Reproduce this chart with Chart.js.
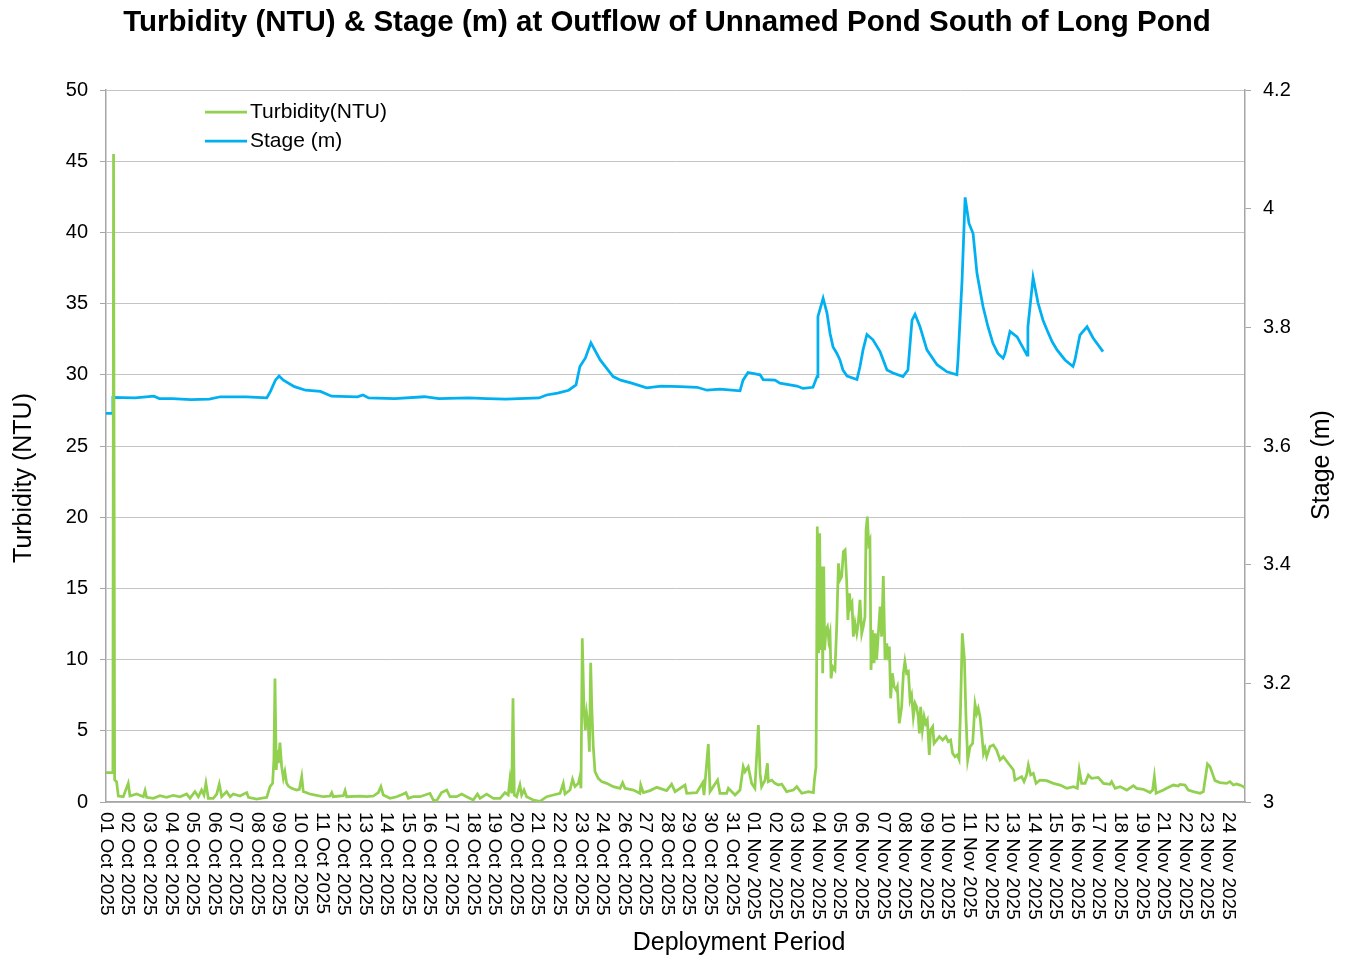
<!DOCTYPE html>
<html>
<head>
<meta charset="utf-8">
<title>Turbidity & Stage</title>
<script src="https://cdn.jsdelivr.net/npm/chart.js@4.4.1/dist/chart.umd.min.js"></script>
<style>
  body { margin: 0; background: #fff; }
  #wrap { width: 1351px; height: 958px; }
</style>
</head>
<body>
<div id="wrap"><canvas id="chart" width="1351" height="958"></canvas></div>
<script>
// tick labels on the date axis (one per label slot, as on the original axis)
const dateLabels = [
  "01 Oct 2025", "02 Oct 2025", "03 Oct 2025", "04 Oct 2025", "05 Oct 2025", "06 Oct 2025",
  "07 Oct 2025", "08 Oct 2025", "09 Oct 2025", "10 Oct 2025", "11 Oct 2025", "12 Oct 2025",
  "13 Oct 2025", "14 Oct 2025", "15 Oct 2025", "16 Oct 2025", "17 Oct 2025", "18 Oct 2025",
  "19 Oct 2025", "20 Oct 2025", "21 Oct 2025", "22 Oct 2025", "23 Oct 2025", "24 Oct 2025",
  "26 Oct 2025", "27 Oct 2025", "28 Oct 2025", "29 Oct 2025", "30 Oct 2025", "31 Oct 2025",
  "01 Nov 2025", "02 Nov 2025", "03 Nov 2025", "04 Nov 2025", "05 Nov 2025", "06 Nov 2025",
  "07 Nov 2025", "08 Nov 2025", "09 Nov 2025", "10 Nov 2025", "11 Nov 2025", "12 Nov 2025",
  "13 Nov 2025", "14 Nov 2025", "15 Nov 2025", "16 Nov 2025", "17 Nov 2025", "18 Nov 2025",
  "19 Nov 2025", "21 Nov 2025", "22 Nov 2025", "23 Nov 2025", "24 Nov 2025"
];
const xEnd = 52.78; // axis runs a little past the last label

const turbTicks = [0, 5, 10, 15, 20, 25, 30, 35, 40, 45, 50];
const stageTicks = [3, 3.2, 3.4, 3.6, 3.8, 4, 4.2];

// Turbidity (NTU) - x is position along the date axis (label slots)
const turbX = [
  0, 0.32, 0.35, 0.40, 0.49, 0.57, 0.80, 1.03, 1.11, 1.42, 1.73, 1.81, 1.88, 2.19, 2.50, 2.81,
  3.12, 3.43, 3.74, 3.89, 4.12, 4.28, 4.43, 4.54, 4.63, 4.74, 4.97, 5.13, 5.25, 5.36, 5.59, 5.75,
  5.90, 6.21, 6.52, 6.60, 6.98, 7.45, 7.60, 7.72, 7.78, 7.83, 7.89, 7.94, 7.99, 8.06, 8.14, 8.22,
  8.29, 8.37, 8.45, 8.60, 8.84, 8.96, 9.07, 9.14, 9.45, 9.76, 10.07, 10.38, 10.46, 10.53, 11.00,
  11.08, 11.15, 11.77, 12.08, 12.39, 12.62, 12.74, 12.85, 13.16, 13.47, 13.78, 13.90, 14.01,
  14.24, 14.55, 15.01, 15.17, 15.32, 15.55, 15.79, 15.94, 16.25, 16.48, 16.71, 17.02, 17.21,
  17.33, 17.64, 17.95, 18.26, 18.49, 18.64, 18.72, 18.80, 18.86, 18.92, 19.03, 19.18, 19.26,
  19.37, 19.49, 19.80, 20.11, 20.42, 20.73, 21.04, 21.19, 21.27, 21.50, 21.62, 21.73, 21.89,
  21.96, 22.01, 22.07, 22.15, 22.21, 22.27, 22.35, 22.40, 22.46, 22.51, 22.58, 22.66, 22.81,
  22.97, 23.20, 23.51, 23.82, 23.94, 24.05, 24.44, 24.74, 24.78, 24.90, 25.21, 25.52, 25.98,
  26.21, 26.37, 26.83, 26.91, 27.37, 27.65, 27.71, 27.91, 27.99, 28.34, 28.45, 28.76, 28.84,
  29.15, 29.38, 29.53, 29.61, 29.76, 29.92, 30.07, 30.23, 30.31, 30.38, 30.54, 30.65, 30.69,
  30.85, 31.00, 31.16, 31.31, 31.54, 31.85, 32.01, 32.24, 32.55, 32.78, 32.82, 32.90, 32.93,
  32.96, 33.02, 33.07, 33.12, 33.18, 33.21, 33.26, 33.30, 33.36, 33.43, 33.49, 33.55, 33.60,
  33.67, 33.78, 33.86, 33.94, 34.01, 34.09, 34.17, 34.25, 34.32, 34.38, 34.45, 34.51, 34.57,
  34.63, 34.71, 34.79, 34.86, 34.94, 35.02, 35.09, 35.17, 35.22, 35.28, 35.34, 35.40, 35.45,
  35.51, 35.59, 35.65, 35.71, 35.79, 35.87, 35.94, 36.02, 36.10, 36.18, 36.25, 36.30, 36.36,
  36.44, 36.52, 36.61, 36.67, 36.76, 36.87, 36.95, 37.02, 37.10, 37.18, 37.26, 37.33, 37.41,
  37.49, 37.56, 37.64, 37.69, 37.75, 37.83, 37.91, 37.98, 38.06, 38.15, 38.21, 38.31, 38.37,
  38.49, 38.62, 38.77, 38.92, 39.03, 39.14, 39.23, 39.34, 39.45, 39.53, 39.60, 39.68, 39.78,
  39.85, 39.93, 40.04, 40.16, 40.27, 40.35, 40.42, 40.50, 40.58, 40.66, 40.73, 40.81, 40.96,
  41.12, 41.27, 41.43, 41.58, 41.81, 42.05, 42.12, 42.28, 42.43, 42.54, 42.66, 42.74, 42.85,
  42.97, 43.10, 43.28, 43.59, 43.90, 44.21, 44.52, 44.83, 45.01, 45.10, 45.21, 45.37, 45.52,
  45.67, 45.98, 46.22, 46.52, 46.60, 46.76, 46.99, 47.30, 47.61, 47.76, 48.07, 48.38, 48.50,
  48.58, 48.66, 48.84, 49.00, 49.15, 49.46, 49.69, 49.77, 50.00, 50.15, 50.39, 50.70, 50.85,
  50.93, 51.04, 51.16, 51.27, 51.39, 51.62, 51.93, 52.08, 52.24, 52.39, 52.55, 52.70, 52.78
];
const turbY = [
  2.06, 2.06, 45.5, 1.55, 1.43, 0.42, 0.37, 1.31, 0.42, 0.56, 0.37, 0.80, 0.33, 0.26, 0.44, 0.33,
  0.47, 0.37, 0.56, 0.26, 0.73, 0.37, 0.84, 0.49, 1.31, 0.26, 0.26, 0.56, 1.26, 0.37, 0.73, 0.37,
  0.56, 0.42, 0.66, 0.33, 0.21, 0.33, 1.08, 1.31, 2.95, 8.68, 2.25, 3.65, 2.72, 4.17, 2.48, 1.66,
  2.13, 1.31, 1.12, 0.96, 0.84, 0.89, 1.78, 0.73, 0.56, 0.47, 0.37, 0.42, 0.66, 0.37, 0.44,
  0.80, 0.37, 0.42, 0.37, 0.42, 0.66, 1.08, 0.49, 0.26, 0.37, 0.56, 0.66, 0.26,
  0.37, 0.37, 0.61, 0.14, 0.09, 0.66, 0.84, 0.37, 0.37, 0.56, 0.37, 0.14, 0.56,
  0.26, 0.56, 0.26, 0.26, 0.66, 0.49, 1.59, 0.61, 7.28, 0.49, 0.37, 1.19, 0.49,
  0.84, 0.37, 0.14, 0.05, 0.37, 0.49, 0.61, 1.31, 0.56, 0.84, 1.59, 1.08, 1.31,
  1.78, 0.96, 11.49, 6.46, 5.06, 6.23, 5.29, 3.53, 9.78, 6.69, 3.89, 2.13, 1.66,
  1.43, 1.31, 1.08, 0.96, 1.36, 0.96, 0.84, 0.61, 1.19, 0.66, 0.80, 1.03, 0.80,
  1.26, 0.73, 1.19, 0.61, 0.66, 1.36, 0.49, 4.07, 0.73, 1.54, 0.61, 0.61, 0.96,
  0.49, 0.84, 2.48, 2.13, 2.48, 1.31, 0.96, 5.41, 2.01, 1.08, 1.54, 2.72, 1.43,
  1.54, 1.31, 1.19, 1.26, 0.73, 0.84, 1.08, 0.61, 0.73, 0.66, 1.43, 2.48, 9.50,
  19.34, 10.44, 18.87, 10.67, 16.53, 9.04, 16.53, 10.67, 12.08, 12.31, 11.38, 11.84, 8.68,
  9.50, 9.27, 12.31, 16.76, 15.59, 15.82, 17.58, 17.70, 15.59, 12.78, 14.65, 13.72, 13.95,
  11.61, 12.55, 11.84, 12.55, 14.19, 11.84, 12.31, 13.01, 19.10, 20.04, 18.16, 18.40, 9.27,
  12.08, 9.74, 11.84, 9.97, 11.84, 13.72, 11.61, 15.87, 9.97, 11.14, 9.97, 10.91, 7.28,
  9.04, 8.10, 7.87, 8.10, 5.52, 6.69, 9.04, 9.85, 9.04, 9.15, 7.16, 7.51, 5.99,
  6.93, 6.69, 5.99, 4.82, 6.69, 5.06, 5.99, 5.52, 5.76, 3.30, 5.06, 5.29, 4.12,
  4.35, 4.59, 4.35, 4.59, 4.24, 4.35, 3.42, 3.18, 3.30, 3.00, 6.69, 11.84, 9.97,
  5.99, 2.95, 3.89, 4.12, 6.88, 6.23, 6.58, 5.99, 4.82, 3.42, 3.77, 3.18, 3.89,
  4.00, 3.65, 2.95, 3.18, 2.72, 2.25, 1.54, 1.66, 1.78, 1.43, 1.90, 2.60, 1.90,
  2.01, 1.31, 1.54, 1.50, 1.31, 1.19, 0.96, 1.08, 0.96, 2.25, 1.31, 1.31, 1.90,
  1.66, 1.73, 1.31, 1.24, 1.43, 0.96, 1.08, 0.84, 1.15, 0.96, 0.89, 0.66, 0.84,
  1.78, 0.61, 0.73, 0.84, 0.96, 1.19, 1.12, 1.24, 1.19, 0.84, 0.73, 0.61, 0.73,
  1.54, 2.67, 2.48, 2.01, 1.50, 1.36, 1.31, 1.43, 1.19, 1.26, 1.19, 1.08, 1.00
];

// Stage (m)
const stageX = [
  0, 0.29, 0.32, 1.35, 2.22, 2.47, 3.07, 3.93, 4.79, 5.30, 6.51, 7.45, 7.62, 7.85, 8.02, 8.22,
  8.73, 9.25, 9.94, 10.45, 11.65, 11.91, 12.17, 13.37, 14.75, 15.43, 16.81, 17.66, 18.52,
  20.07, 20.41, 20.93, 21.44, 21.78, 21.96, 22.21, 22.47, 22.90, 23.50, 23.85, 24.36, 25.05,
  25.73, 26.60, 27.39, 27.85, 28.45, 29.38, 29.52, 29.75, 30.31, 30.45, 31.00, 31.23, 32.02,
  32.30, 32.76, 32.95, 32.99, 33.23, 33.41, 33.55, 33.69, 33.87, 34.01, 34.15, 34.34, 34.80,
  34.94, 35.08, 35.26, 35.54, 35.87, 36.19, 36.47, 36.93, 37.16, 37.35, 37.49, 37.72, 38.04,
  38.51, 38.97, 39.43, 39.48, 39.67, 39.81, 39.99, 40.18, 40.36, 40.50, 40.64, 40.87, 41.10,
  41.33, 41.57, 41.66, 41.89, 42.22, 42.68, 42.72, 42.96, 43.19, 43.42, 43.60, 43.84, 44.07,
  44.44, 44.81, 44.90, 45.13, 45.46, 45.74, 46.20
];
const stageY = [
  3.655, 3.655, 3.682, 3.681, 3.684, 3.680, 3.680, 3.678, 3.679, 3.683, 3.683, 3.681, 3.692,
  3.711, 3.718, 3.711, 3.700, 3.694, 3.692, 3.684, 3.683, 3.686, 3.681, 3.680, 3.683, 3.680,
  3.681, 3.680, 3.679, 3.681, 3.686, 3.689, 3.694, 3.703, 3.734, 3.748, 3.774, 3.745, 3.717,
  3.711, 3.706, 3.698, 3.701, 3.700, 3.699, 3.694, 3.696, 3.693, 3.711, 3.724, 3.720, 3.712,
  3.711, 3.706, 3.701, 3.697, 3.699, 3.717, 3.818, 3.849, 3.824, 3.790, 3.767, 3.756, 3.745,
  3.728, 3.718, 3.712, 3.734, 3.762, 3.788, 3.779, 3.759, 3.728, 3.723, 3.717, 3.728, 3.812,
  3.822, 3.801, 3.762, 3.737, 3.725, 3.720, 3.745, 3.880, 4.019, 3.975, 3.958, 3.891, 3.863,
  3.835, 3.801, 3.773, 3.756, 3.748, 3.756, 3.793, 3.784, 3.753, 3.801, 3.884, 3.841, 3.812,
  3.796, 3.776, 3.762, 3.745, 3.734, 3.745, 3.787, 3.801, 3.782, 3.759
];

const FONT = '"Liberation Sans", Arial, sans-serif';
const green = '#92D050';
const blue = '#00B0F0';

// titles, rotated date labels and the legend drawn by hand
const decor = {
  id: 'decor',
  afterDraw(chart) {
    const ctx = chart.ctx;
    const xs = chart.scales.x;
    const area = chart.chartArea;
    ctx.save();
    ctx.fillStyle = '#000';
    ctx.textBaseline = 'middle';

    ctx.font = 'bold 29.5px ' + FONT;
    ctx.textAlign = 'center';
    ctx.fillText('Turbidity (NTU) & Stage (m) at Outflow of Unnamed Pond South of Long Pond', 667, 23);

    // date labels, read top to bottom
    ctx.font = '19px ' + FONT;
    dateLabels.forEach(function (lab, i) {
      ctx.save();
      ctx.translate(xs.getPixelForValue(i), area.bottom + 10);
      ctx.rotate(Math.PI / 2);
      ctx.textAlign = 'left';
      ctx.fillText(lab, 0, 0);
      ctx.restore();
    });

    ctx.font = '25px ' + FONT;
    ctx.textAlign = 'center';
    ctx.fillText('Deployment Period', 739, 943);

    ctx.save();
    ctx.translate(24, 478);
    ctx.rotate(-Math.PI / 2);
    ctx.fillText('Turbidity (NTU)', 0, 0);
    ctx.restore();

    ctx.save();
    ctx.translate(1322, 465);
    ctx.rotate(-Math.PI / 2);
    ctx.fillText('Stage (m)', 0, 0);
    ctx.restore();

    // legend
    ctx.font = '21px ' + FONT;
    ctx.textAlign = 'left';
    chart.data.datasets.forEach(function (ds, i) {
      const y = 112 + i * 29;
      ctx.strokeStyle = ds.borderColor;
      ctx.lineWidth = 2.75;
      ctx.beginPath();
      ctx.moveTo(205, y);
      ctx.lineTo(247, y);
      ctx.stroke();
      ctx.fillText(ds.label, 250, y);
    });
    ctx.restore();
  }
};

new Chart(document.getElementById('chart'), {
  type: 'line',
  data: {
    datasets: [
      {
        label: 'Turbidity(NTU)',
        data: turbX.map((x, i) => ({ x: x, y: turbY[i] })),
        borderColor: green,
        borderWidth: 2.75,
        pointRadius: 0,
        tension: 0,
        yAxisID: 'y'
      },
      {
        label: 'Stage (m)',
        data: stageX.map((x, i) => ({ x: x, y: stageY[i] })),
        borderColor: blue,
        borderWidth: 2.75,
        pointRadius: 0,
        tension: 0,
        yAxisID: 'y1'
      }
    ]
  },
  options: {
    responsive: false,
    animation: false,
    devicePixelRatio: 1,
    layout: { padding: { top: 90, left: 0, right: 0, bottom: 0 } },
    plugins: {
      legend: { display: false },
      title: { display: false },
      tooltip: { enabled: false }
    },
    scales: {
      x: {
        type: 'linear',
        min: 0,
        max: xEnd,
        grid: { display: false },
        border: { display: true, color: '#a6a6a6', width: 1.5 },
        ticks: { display: false },
        afterFit(scale) { scale.height = 156; }
      },
      y: {
        position: 'left',
        min: 0,
        max: 50,
        afterBuildTicks(scale) { scale.ticks = turbTicks.map(v => ({ value: v })); },
        grid: { color: '#c4c4c4', lineWidth: 1, tickLength: 6, tickColor: '#a6a6a6' },
        border: { display: true, color: '#a6a6a6', width: 1.5 },
        ticks: { color: '#000', font: { family: FONT, size: 20 }, padding: 12 },
        afterFit(scale) { scale.width = 106; }
      },
      y1: {
        position: 'right',
        min: 3,
        max: 4.2,
        afterBuildTicks(scale) { scale.ticks = stageTicks.map(v => ({ value: v })); },
        grid: { drawOnChartArea: false, tickLength: 6, tickColor: '#a6a6a6' },
        border: { display: true, color: '#a6a6a6', width: 1.5 },
        ticks: {
          color: '#000',
          font: { family: FONT, size: 20 },
          padding: 12,
          callback: v => String(Math.round(v * 10) / 10)
        },
        afterFit(scale) { scale.width = 106; }
      }
    }
  },
  plugins: [decor]
});
</script>
</body>
</html>
